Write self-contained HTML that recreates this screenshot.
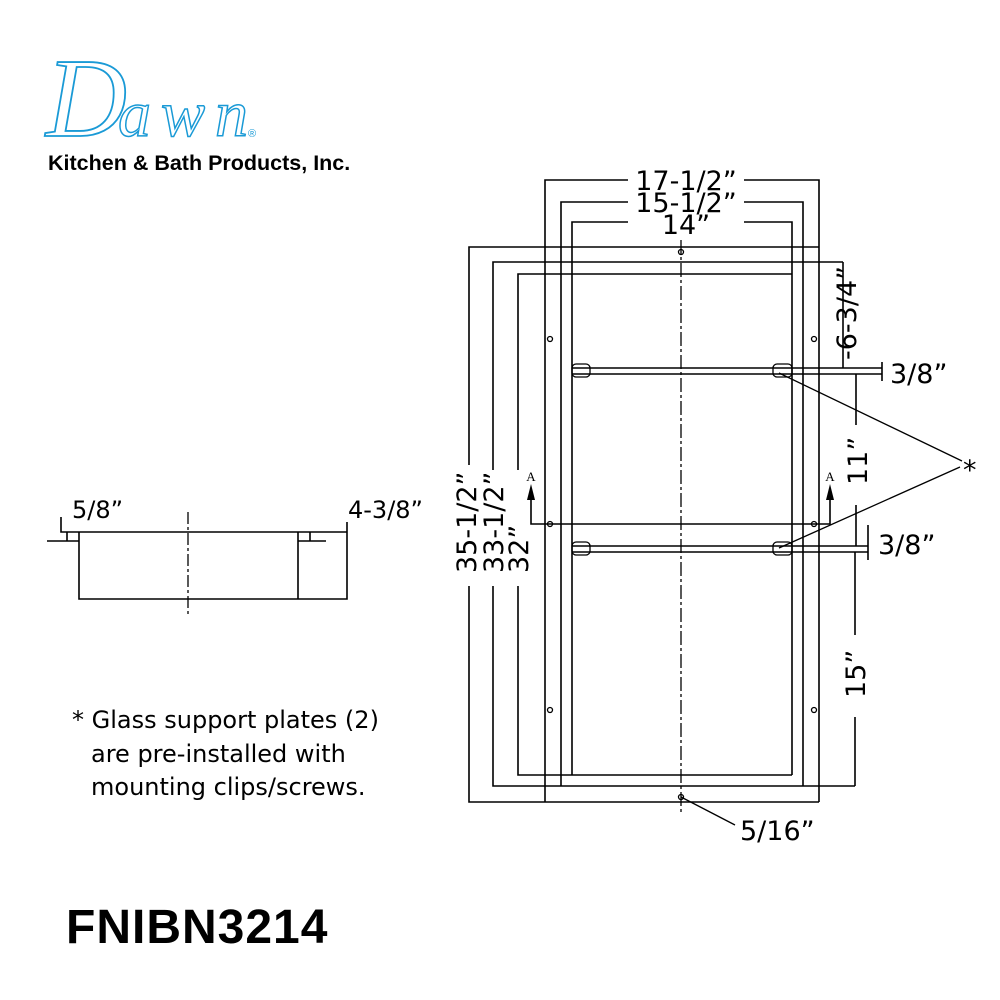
<!DOCTYPE html>
<html><head><meta charset="utf-8"><style>
html,body{margin:0;padding:0;background:#fff}
svg{display:block}
text{font-family:"DejaVu Sans","Liberation Sans",sans-serif;fill:#000}
</style></head><body>
<svg width="1000" height="1000" viewBox="0 0 1000 1000" xmlns="http://www.w3.org/2000/svg">
<!-- logo -->
<text x="46" y="136" style="font-family:'Liberation Serif',serif;font-style:italic;font-size:112px;fill:none;stroke:#1a9ad6;stroke-width:1.8">D</text>
<text x="118" y="136" style="font-family:'Liberation Serif',serif;font-style:italic;font-size:66px;fill:none;stroke:#1a9ad6;stroke-width:1.5;letter-spacing:10px">awn</text>
<text x="248" y="137" style="font-family:'Liberation Sans',sans-serif;font-size:11px;fill:#1a9ad6">®</text>
<text x="48" y="170" style="font-family:'Liberation Sans',sans-serif;font-weight:bold;font-size:21.5px">Kitchen &amp; Bath Products, Inc.</text>

<g stroke="#000" stroke-width="1.6" fill="none">
<path d="M545,802 V180 H628 M744,180 H819 V802"/>
<path d="M561,786 V202 H628 M744,202 H803 V786"/>
<path d="M572,775 V222 H628 M744,222 H792 V775"/>
<path d="M819,247 H469 V465 M469,586 V802 H819"/>
<path d="M843,262 H493 V470 M493,586 V786 H855"/>
<path d="M792,274 H518 V470 M518,586 V775 H792"/>
<path d="M843,262 V368"/>
<path d="M572,368 H882 M572,374 H882 M882,362 V381"/>
<path d="M572,546 H868 M572,552 H868 M868,525 V560"/>
<path d="M856,374 V425 M856,505 V546"/>
<path d="M855,552 V635 M855,717 V786"/>
<path d="M531,498 V524 H830 V498"/>
<path d="M61,517 V532 H347 M79,532 V599 H347 V522 M298,532 V599 M47,541 H79 M298,541 H326 M67,532 V541 M310,532 V541"/>
</g>
<g stroke="#000" stroke-width="1.3" fill="none">
<rect x="572" y="364" width="18" height="13" rx="4"/>
<rect x="773" y="364" width="19" height="13" rx="4"/>
<rect x="572" y="542" width="18" height="13" rx="4"/>
<rect x="773" y="542" width="19" height="13" rx="4"/>
<path d="M779,373 L962,461 M779,548 L960,467 M681,797 L735,825"/>
<circle cx="681" cy="252" r="2.5"/><circle cx="681" cy="797" r="2.5"/>
<circle cx="550" cy="339" r="2.5"/><circle cx="814" cy="339" r="2.5"/>
<circle cx="550" cy="710" r="2.5"/><circle cx="814" cy="710" r="2.5"/>
<circle cx="550" cy="524" r="2.5"/><circle cx="814" cy="524" r="2.5"/>
<path d="M681,240 V815" stroke-dasharray="14,3,3,3"/>
<path d="M188,512 V614" stroke-dasharray="12,3,3,3"/>
</g>
<polygon points="531,484 527,500 535,500" fill="#000"/>
<polygon points="830,484 826,500 834,500" fill="#000"/>
<text x="531" y="481" font-size="13" text-anchor="middle" style="font-family:'Liberation Serif',serif">A</text>
<text x="830" y="481" font-size="13" text-anchor="middle" style="font-family:'Liberation Serif',serif">A</text>

<g font-size="27">
<text x="686" y="190" text-anchor="middle">17-1/2”</text>
<text x="686" y="212" text-anchor="middle">15-1/2”</text>
<text x="686" y="234" text-anchor="middle">14”</text>
<text x="890" y="383">3/8”</text>
<text x="878" y="554">3/8”</text>
<text x="740" y="840">5/16”</text>
<text transform="translate(476,573) rotate(-90)">35-1/2”</text>
<text transform="translate(503,573) rotate(-90)">33-1/2”</text>
<text transform="translate(528,573) rotate(-90)">32”</text>
<text transform="translate(856,360) rotate(-90)">-6-3/4”</text>
<text transform="translate(867,485) rotate(-90)">11”</text>
<text transform="translate(865,698) rotate(-90)">15”</text>
<text x="963" y="479">*</text>
<text x="72" y="518" font-size="24">5/8”</text>
<text x="348" y="518" font-size="24">4-3/8”</text>
</g>
<g font-size="24" style="font-family:'Liberation Sans',sans-serif">
<text x="72" y="728">* Glass support plates (2)</text>
<text x="91" y="762">are pre-installed with</text>
<text x="91" y="795">mounting clips/screws.</text>
</g>
<text x="66" y="943" style="font-family:'Liberation Sans',sans-serif;font-weight:bold;font-size:48px;letter-spacing:1px">FNIBN3214</text>
</svg>
</body></html>
